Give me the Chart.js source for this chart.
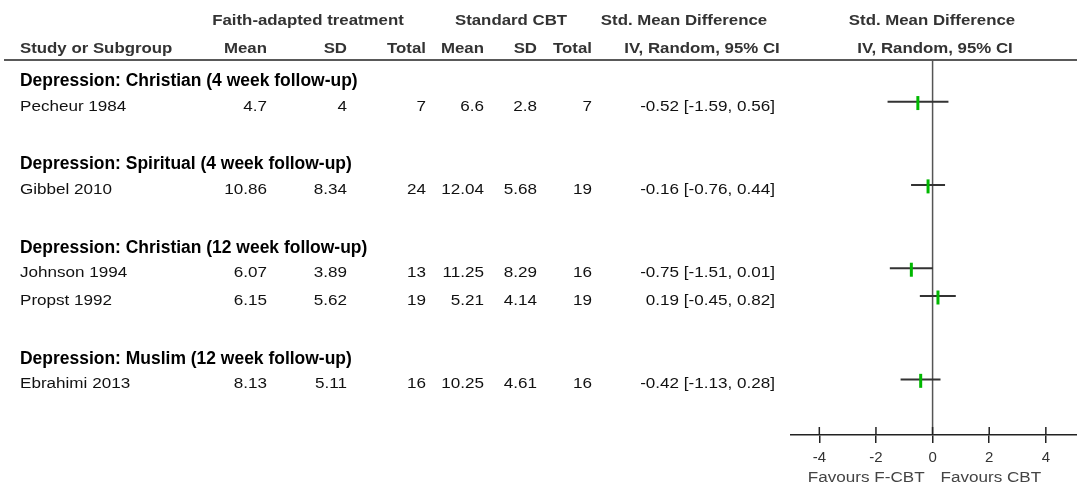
<!DOCTYPE html>
<html>
<head>
<meta charset="utf-8">
<script src="https://cdn.jsdelivr.net/npm/chart.js@4.4.1/dist/chart.umd.min.js"></script>
<style>
  html, body { margin: 0; padding: 0; background: #fff; overflow: hidden; }
  #wrap { position: relative; width: 1077px; height: 487px; }
</style>
</head>
<body>
<div id="wrap"><canvas id="forest" width="1077" height="487"></canvas></div>
<script>
// ---- data ----
const subgroups = [
  'Depression: Christian (4 week follow-up)',
  'Depression: Spiritual (4 week follow-up)',
  'Depression: Christian (12 week follow-up)',
  'Depression: Muslim (12 week follow-up)'
];
const studies = ['Pecheur 1984', 'Gibbel 2010', 'Johnson 1994', 'Propst 1992', 'Ebrahimi 2013'];
const studyGroup = [0, 1, 2, 2, 3];
const faithMean = [4.7, 10.86, 6.07, 6.15, 8.13];
const faithSD = [4, 8.34, 3.89, 5.62, 5.11];
const faithTotal = [7, 24, 13, 19, 16];
const cbtMean = [6.6, 12.04, 11.25, 5.21, 10.25];
const cbtSD = [2.8, 5.68, 8.29, 4.14, 4.61];
const cbtTotal = [7, 19, 16, 19, 16];
const smd = [-0.52, -0.16, -0.75, 0.19, -0.42];
const ciLow = [-1.59, -0.76, -1.51, -0.45, -1.13];
const ciHigh = [0.56, 0.44, 0.01, 0.82, 0.28];
const xTicks = [-4, -2, 0, 2, 4];

// ---- row layout: heading, studies, blank line per subgroup ----
const headingRow = [];
const studyRow = [];
let r = -1;
subgroups.forEach((g, gi) => {
  headingRow.push(r++);
  studies.forEach((s, si) => { if (studyGroup[si] === gi) studyRow[si] = r++; });
  r++;
});

const FONT = "'Liberation Sans', Arial, Helvetica, sans-serif";
const GREEN = '#00b800';
const INK = '#333333';

function txt(ctx, s, x, y, align, font, color, sx) {
  ctx.save();
  ctx.font = font;
  ctx.fillStyle = color;
  ctx.textBaseline = 'middle';
  ctx.textAlign = align;
  ctx.translate(x, y);
  ctx.scale(sx, 1);
  ctx.fillText(s, 0, 0);
  ctx.restore();
}

const tablePlugin = {
  id: 'forestTable',
  beforeDatasetsDraw(chart) {
    const { ctx, chartArea } = chart;
    ctx.save();
    ctx.strokeStyle = '#222';
    ctx.lineWidth = 1.5;
    ctx.beginPath();
    ctx.moveTo(4, chartArea.top);
    ctx.lineTo(chart.width, chartArea.top);
    ctx.stroke();
    ctx.restore();
  },
  afterDraw(chart) {
    const { ctx, chartArea } = chart;
    const xs = chart.scales.x, ys = chart.scales.y;

    // tick marks reaching above the axis line
    ctx.save();
    ctx.strokeStyle = '#222';
    ctx.lineWidth = 1.5;
    xTicks.forEach(v => {
      const px = xs.getPixelForValue(v);
      ctx.beginPath();
      ctx.moveTo(px, chartArea.bottom - 8);
      ctx.lineTo(px, chartArea.bottom);
      ctx.stroke();
    });
    ctx.restore();

    const hdr = 'bold 14.5px ' + FONT;
    const hsx = 1.16;
    const h1 = 21, h2 = 49;
    // column headers
    txt(ctx, 'Faith-adapted treatment', 308, h1, 'center', hdr, INK, hsx);
    txt(ctx, 'Standard CBT', 511, h1, 'center', hdr, INK, hsx);
    txt(ctx, 'Std. Mean Difference', 684, h1, 'center', hdr, INK, hsx);
    txt(ctx, 'Std. Mean Difference', 932, h1, 'center', hdr, INK, hsx);
    txt(ctx, 'Study or Subgroup', 20, h2, 'left', hdr, INK, hsx);
    const colRight = [267, 347, 426, 484, 537, 592];
    const colHead = ['Mean', 'SD', 'Total', 'Mean', 'SD', 'Total'];
    colHead.forEach((h, i) => txt(ctx, h, colRight[i], h2, 'right', hdr, INK, hsx));
    txt(ctx, 'IV, Random, 95% CI', 702, h2, 'center', hdr, INK, hsx);
    txt(ctx, 'IV, Random, 95% CI', 935, h2, 'center', hdr, INK, hsx);

    // subgroup headings
    const gh = 'bold 18px ' + FONT;
    subgroups.forEach((g, gi) => {
      const y = ys.getPixelForValue(headingRow[gi]) + 7;
      txt(ctx, g, 20, y, 'left', gh, '#000', 0.97);
    });

    // study rows
    const df = '14px ' + FONT;
    const dsx = 1.22;
    studies.forEach((s, i) => {
      const y = ys.getPixelForValue(studyRow[i]) + 5;
      txt(ctx, s, 20, y, 'left', df, '#111', dsx);
      const vals = [faithMean[i], faithSD[i], faithTotal[i], cbtMean[i], cbtSD[i], cbtTotal[i]];
      vals.forEach((v, j) => txt(ctx, String(v), colRight[j], y, 'right', df, '#111', dsx));
      const est = (smd[i] < 0 ? '' : ' ') + smd[i].toFixed(2) +
        ' [' + ciLow[i].toFixed(2) + ', ' + ciHigh[i].toFixed(2) + ']';
      txt(ctx, est, 775, y, 'right', df, '#111', dsx);
    });

    // favours labels
    const zx = xs.getPixelForValue(0);
    txt(ctx, 'Favours F-CBT', zx - 8, 478, 'right', df, '#444', dsx);
    txt(ctx, 'Favours CBT', zx + 8, 478, 'left', df, '#444', dsx);
  }
};

const ciSets = studies.map((s, i) => ({
  type: 'line',
  label: s,
  data: [{ x: ciLow[i], y: studyRow[i] }, { x: ciHigh[i], y: studyRow[i] }],
  borderColor: '#333',
  borderWidth: 2,
  pointRadius: 0,
  order: 2
}));

new Chart(document.getElementById('forest'), {
  type: 'scatter',
  data: {
    datasets: [
      {
        type: 'line',
        label: 'no effect',
        data: [{ x: 0, y: -1.5 }, { x: 0, y: 12 }],
        borderColor: '#555',
        borderWidth: 1.5,
        pointRadius: 0,
        order: 3
      },
      ...ciSets,
      {
        type: 'scatter',
        label: 'SMD',
        data: smd.map((v, i) => ({ x: v, y: studyRow[i] + 0.05 })),
        pointStyle: 'line',
        rotation: 90,
        radius: 7,
        borderWidth: 3,
        borderColor: GREEN,
        backgroundColor: GREEN,
        order: 1
      }
    ]
  },
  options: {
    responsive: false,
    animation: false,
    events: [],
    layout: { autoPadding: false, padding: { left: 791, right: 0, top: 60, bottom: 0 } },
    plugins: { legend: { display: false }, tooltip: { enabled: false } },
    scales: {
      x: {
        type: 'linear',
        min: -5,
        max: 5.1,
        afterBuildTicks(scale) { scale.ticks = xTicks.map(v => ({ value: v })); },
        afterFit(scale) {
          scale.height = 52;
          scale.paddingLeft = 0;
          scale.paddingRight = 0;
        },
        border: { display: true, color: '#222', width: 1.5 },
        grid: { display: true, drawOnChartArea: false, drawTicks: true, tickLength: 8, color: '#222', lineWidth: 1.5 },
        ticks: { padding: 6, color: INK, font: { family: FONT, size: 15 }, maxRotation: 0, autoSkip: false }
      },
      y: {
        type: 'linear',
        display: false,
        reverse: true,
        min: -1.5,
        max: 12
      }
    }
  },
  plugins: [tablePlugin]
});
</script>
</body>
</html>
